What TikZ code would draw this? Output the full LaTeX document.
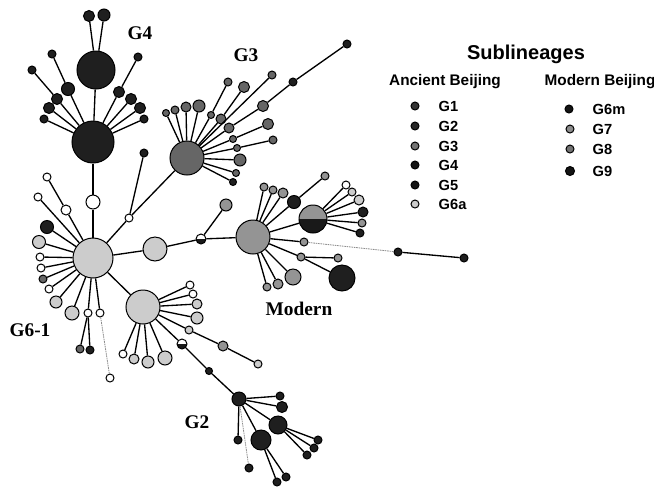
\documentclass[tikz,border=0pt]{standalone}
\usepackage{fontspec}
\setmainfont{Liberation Serif}
\newfontfamily\legendfont{Liberation Sans}
\usepackage{tikz}

\tikzset{
  nd/.style={circle,draw=black,line width=0.75pt,inner sep=0pt,minimum size={1.5pt*#1}},
  blk/.style={nd=#1,fill=black!88},
  dgr/.style={nd=#1,fill=black!60},
  mgr/.style={nd=#1,fill=black!42},
  lgr/.style={nd=#1,fill=black!20},
  wht/.style={nd=#1,fill=white},
  half/.style={nd=#1,fill=white,path picture={\fill[black!90] (path picture bounding box.west) rectangle (path picture bounding box.south east);}},
  halfgr/.style={half=#1,fill=black!42},
  lnk/.style={line width=1pt},
  faint/.style={draw=black!45,line width=0.6pt,dash pattern=on 1.2pt off 0.6pt},
  grp/.style={font=\fontsize{14.5}{16}\selectfont\bfseries},
  keytxt/.style={anchor=west,font=\legendfont\fontsize{11}{13}\selectfont\bfseries},
}

\begin{document}
\begin{tikzpicture}[x=0.75pt,y=0.75pt,yscale=-1,xscale=1]
\useasboundingbox (0,0) rectangle (654,487);

%Cluster G4
\node[blk=19] (g4a) at (96,70) {};
\node[blk=21] (g4b) at (93,142) {};
\node[blk=5.5] (g4t1) at (89,16) {};
\node[blk=6] (g4t2) at (104,15) {};
\node[blk=4] (g4l1) at (32,70) {};
\node[blk=4] (g4l2) at (52,54) {};
\node[blk=6.5] (g4l3) at (68,89) {};
\node[blk=5.5] (g4l4) at (57,99) {};
\node[blk=5.5] (g4l5) at (49,108) {};
\node[blk=4] (g4l6) at (44,119) {};
\node[blk=4] (g4r1) at (138,57) {};
\node[blk=5.5] (g4r2) at (119,92) {};
\node[blk=5.5] (g4r3) at (131,99) {};
\node[blk=5.5] (g4r4) at (140,108) {};
\node[blk=4] (g4r5) at (144,119) {};

%Cluster G6-1
\node[wht=7] (w1) at (93,202) {};
\node[lgr=20] (g61) at (93,258) {};
\node[wht=4] (a1) at (47,177) {};
\node[wht=4] (a2) at (38,197) {};
\node[wht=5] (a3) at (66,210) {};
\node[blk=6.5] (a4) at (47,227) {};
\node[lgr=6.5] (a5) at (39,242) {};
\node[wht=4] (a6) at (40,257) {};
\node[wht=4] (a7) at (41,268) {};
\node[dgr=4] (a8) at (43,279) {};
\node[wht=4] (a9) at (49,289) {};
\node[lgr=6] (a10) at (56,302) {};
\node[lgr=7] (a11) at (72,313) {};
\node[wht=4] (a12) at (88,313) {};
\node[dgr=4] (a13) at (80,349) {};
\node[blk=4] (a14) at (90,350) {};
\node[wht=4] (a15) at (100,313) {};
\node[wht=4] (a16) at (110,378) {};
\node[wht=4] (w2) at (129,218) {};
\node[blk=4] (k1) at (144,153) {};
\node[lgr=12] (lg1) at (155,249) {};
\node[half=5] (h1) at (201,239) {};
\node[mgr=6] (lg2) at (226,205) {};

%Cluster G6-2
\node[lgr=17] (g62) at (143,307) {};
\node[wht=4] (b1) at (190,285) {};
\node[wht=4] (b2) at (193,294) {};
\node[lgr=5] (b3) at (197,304) {};
\node[lgr=6] (b4) at (197,318) {};
\node[lgr=4] (b5) at (189,330) {};
\node[mgr=5] (b6) at (223,346) {};
\node[lgr=4] (b7) at (258,364) {};
\node[half=5] (h2) at (182,344) {};
\node[blk=3.5] (k2) at (209,371) {};
\node[wht=4] (b8) at (123,354) {};
\node[lgr=5] (b9) at (134,359) {};
\node[lgr=6] (b10) at (148,362) {};
\node[lgr=7] (b11) at (165,358) {};

%Cluster G2
\node[blk=7] (g2c) at (239,399) {};
\node[blk=4] (c1) at (280,396) {};
\node[blk=5.5] (c2) at (282,407) {};
\node[blk=9] (c3) at (278,425) {};
\node[blk=4] (c4) at (318,440) {};
\node[blk=4] (c5) at (314,448) {};
\node[blk=4] (c6) at (307,455) {};
\node[blk=4] (c7) at (238,440) {};
\node[blk=10] (c8) at (261,440) {};
\node[blk=4] (c9) at (286,477) {};
\node[blk=4] (c10) at (277,482) {};
\node[blk=4] (c11) at (249,468) {};

%Cluster Modern
\node[mgr=17] (mod) at (253,237) {};
\node[mgr=4] (m1) at (264,187) {};
\node[mgr=4] (m2) at (273,190) {};
\node[mgr=5] (m3) at (283,193) {};
\node[blk=6.5] (m4) at (294,202) {};
\node[mgr=4] (m5) at (325,176) {};
\node[halfgr=14] (hm) at (313,219) {};
\node[wht=4] (m6) at (346,185) {};
\node[lgr=4] (m7) at (352,192) {};
\node[lgr=5] (m8) at (359,200) {};
\node[blk=5] (m9) at (363,212) {};
\node[mgr=4] (m10) at (362,223) {};
\node[blk=4] (m11) at (360,233) {};
\node[mgr=4] (m12) at (304,242) {};
\node[blk=4] (m13) at (398,252) {};
\node[blk=4] (m14) at (464,258) {};
\node[mgr=4] (m15) at (301,257) {};
\node[mgr=4] (m16) at (338,258) {};
\node[blk=13] (m17) at (342,278) {};
\node[mgr=8] (m18) at (293,277) {};
\node[mgr=5] (m19) at (278,284) {};
\node[mgr=4] (m20) at (267,287) {};

%Cluster G3
\node[dgr=17] (g3c) at (187,158) {};
\node[dgr=3.5] (d1) at (166,113) {};
\node[dgr=4] (d2) at (175,110) {};
\node[dgr=5] (d3) at (186,107) {};
\node[dgr=6] (d4) at (199,106) {};
\node[dgr=3.5] (d5) at (211,115) {};
\node[dgr=4] (d6) at (228,82) {};
\node[dgr=5] (d7) at (221,119) {};
\node[dgr=5.5] (d8) at (244,87) {};
\node[dgr=5] (d9) at (229,128) {};
\node[dgr=4] (d10) at (272,75) {};
\node[dgr=5.5] (d11) at (263,106) {};
\node[blk=4] (d12) at (293,82) {};
\node[blk=4] (d13) at (347,44) {};
\node[dgr=3.5] (d14) at (233,139) {};
\node[dgr=5.5] (d15) at (268,124) {};
\node[dgr=3.5] (d16) at (237,148) {};
\node[dgr=4] (d17) at (273,140) {};
\node[dgr=6] (d18) at (240,160) {};
\node[dgr=3.5] (d19) at (236,173) {};
\node[blk=3.5] (d20) at (233,182) {};

%Straight Lines G4
\draw[lnk] (g4a) -- (g4t1);
\draw[lnk] (g4a) -- (g4t2);
\draw[lnk] (g4b) -- (g4a);
\draw[lnk] (g4b) -- (g4l4) -- (g4l1);
\draw[lnk] (g4b) -- (g4l3) -- (g4l2);
\draw[lnk] (g4b) -- (g4l5);
\draw[lnk] (g4b) -- (g4l6);
\draw[lnk] (g4b) -- (g4r2) -- (g4r1);
\draw[lnk] (g4b) -- (g4r3);
\draw[lnk] (g4b) -- (g4r4);
\draw[lnk] (g4b) -- (g4r5);
\draw[lnk] (g4b) -- (w1) -- (g61);

%Straight Lines G6-1
\draw[lnk] (g61) -- (a3) -- (a1);
\draw[lnk] (g61) -- (a2);
\draw[lnk] (g61) -- (a4);
\draw[lnk] (g61) -- (a5);
\draw[lnk] (g61) -- (a6);
\draw[lnk] (g61) -- (a7);
\draw[lnk] (g61) -- (a8);
\draw[lnk] (g61) -- (a9);
\draw[lnk] (g61) -- (a10);
\draw[lnk] (g61) -- (a11);
\draw[lnk] (g61) -- (a12);
\draw[lnk] (a12) -- (a13);
\draw[lnk] (a12) -- (a14);
\draw[lnk] (g61) -- (a15);
\draw[faint] (a15) -- (a16);
\draw[lnk] (g61) -- (w2) -- (g3c);
\draw[lnk] (w2) -- (k1);
\draw[lnk] (g61) -- (lg1) -- (h1) -- (mod);
\draw[lnk] (h1) -- (lg2);
\draw[lnk] (g61) -- (g62);

%Straight Lines G6-2
\draw[lnk] (g62) -- (b1);
\draw[lnk] (g62) -- (b2);
\draw[lnk] (g62) -- (b3);
\draw[lnk] (g62) -- (b4);
\draw[lnk] (g62) -- (b5) -- (b6) -- (b7);
\draw[lnk] (g62) -- (h2) -- (k2) -- (g2c);
\draw[lnk] (g62) -- (b8);
\draw[lnk] (g62) -- (b9);
\draw[lnk] (g62) -- (b10);
\draw[lnk] (g62) -- (b11);

%Straight Lines G2
\draw[lnk] (g2c) -- (c1);
\draw[lnk] (g2c) -- (c2);
\draw[lnk] (g2c) -- (c3);
\draw[lnk] (c3) -- (c4);
\draw[lnk] (c3) -- (c5);
\draw[lnk] (c3) -- (c6);
\draw[lnk] (g2c) -- (c7);
\draw[lnk] (g2c) -- (c8);
\draw[lnk] (c8) -- (c9);
\draw[lnk] (c8) -- (c10);
\draw[faint] (g2c) -- (c11);

%Straight Lines Modern
\draw[lnk] (mod) -- (m1);
\draw[lnk] (mod) -- (m2);
\draw[lnk] (mod) -- (m3);
\draw[lnk] (mod) -- (m4) -- (m5);
\draw[lnk] (mod) -- (hm);
\draw[lnk] (hm) -- (m6);
\draw[lnk] (hm) -- (m7);
\draw[lnk] (hm) -- (m8);
\draw[lnk] (hm) -- (m9);
\draw[lnk] (hm) -- (m10);
\draw[lnk] (hm) -- (m11);
\draw[lnk] (mod) -- (m12);
\draw[faint] (m12) -- (m13);
\draw[lnk] (m13) -- (m14);
\draw[lnk] (mod) -- (m15) -- (m17);
\draw[lnk] (m15) -- (m16);
\draw[lnk] (mod) -- (m18);
\draw[lnk] (mod) -- (m19);
\draw[lnk] (mod) -- (m20);

%Straight Lines G3
\draw[lnk] (g3c) -- (d1);
\draw[lnk] (g3c) -- (d2);
\draw[lnk] (g3c) -- (d3);
\draw[lnk] (g3c) -- (d4);
\draw[lnk] (g3c) -- (d5) -- (d6);
\draw[lnk] (g3c) -- (d7) -- (d8);
\draw[lnk] (g3c) -- (d10);
\draw[lnk] (g3c) -- (d9) -- (d11) -- (d12) -- (d13);
\draw[lnk] (g3c) -- (d14) -- (d15);
\draw[lnk] (g3c) -- (d16) -- (d17);
\draw[lnk] (g3c) -- (d18);
\draw[lnk] (g3c) -- (d19);
\draw[lnk] (g3c) -- (d20);

%Group labels
\node[grp] (labG4) at (140,33) {G4};
\node[grp] (labG3) at (246,55) {G3};
\node[grp] (labG61) at (30,330) {G6-1};
\node[grp] (labMod) at (299,309) {Modern};
\node[grp] (labG2) at (197,422) {G2};

%Legend
\node[anchor=base,font=\legendfont\fontsize{15}{17}\selectfont\bfseries] (keyTitle) at (526,59) {Sublineages};
\node[anchor=base,font=\legendfont\fontsize{11.5}{13}\selectfont\bfseries] (keyAnc) at (445,85) {Ancient Beijing};
\node[anchor=base west,font=\legendfont\fontsize{11.5}{13}\selectfont\bfseries] (keyMod) at (540,85) {Modern Beijing};
\node[nd=4,fill=black!80] (keyG1) at (415,106) {};
\node[keytxt] (txtG1) at (434,106) {G1};
\node[nd=4,fill=black!85] (keyG2) at (415,126) {};
\node[keytxt] (txtG2) at (434,126) {G2};
\node[nd=4,fill=black!55] (keyG3) at (415,146) {};
\node[keytxt] (txtG3) at (434,146) {G3};
\node[nd=4,fill=black!92] (keyG4) at (415,165) {};
\node[keytxt] (txtG4) at (434,165) {G4};
\node[nd=4,fill=black!92] (keyG5) at (415,185) {};
\node[keytxt] (txtG5) at (434,185) {G5};
\node[nd=4,fill=black!20] (keyG6a) at (415,204) {};
\node[keytxt] (txtG6a) at (434,204) {G6a};
\node[nd=4,fill=black!92] (keyG6m) at (569,109) {};
\node[keytxt] (txtG6m) at (588,109) {G6m};
\node[nd=4,fill=black!45] (keyG7) at (570,129) {};
\node[keytxt] (txtG7) at (588,129) {G7};
\node[nd=4,fill=black!55] (keyG8) at (570,149) {};
\node[keytxt] (txtG8) at (588,149) {G8};
\node[nd=4.5,fill=black!92] (keyG9) at (570,171) {};
\node[keytxt] (txtG9) at (588,171) {G9};

\end{tikzpicture}
\end{document}
